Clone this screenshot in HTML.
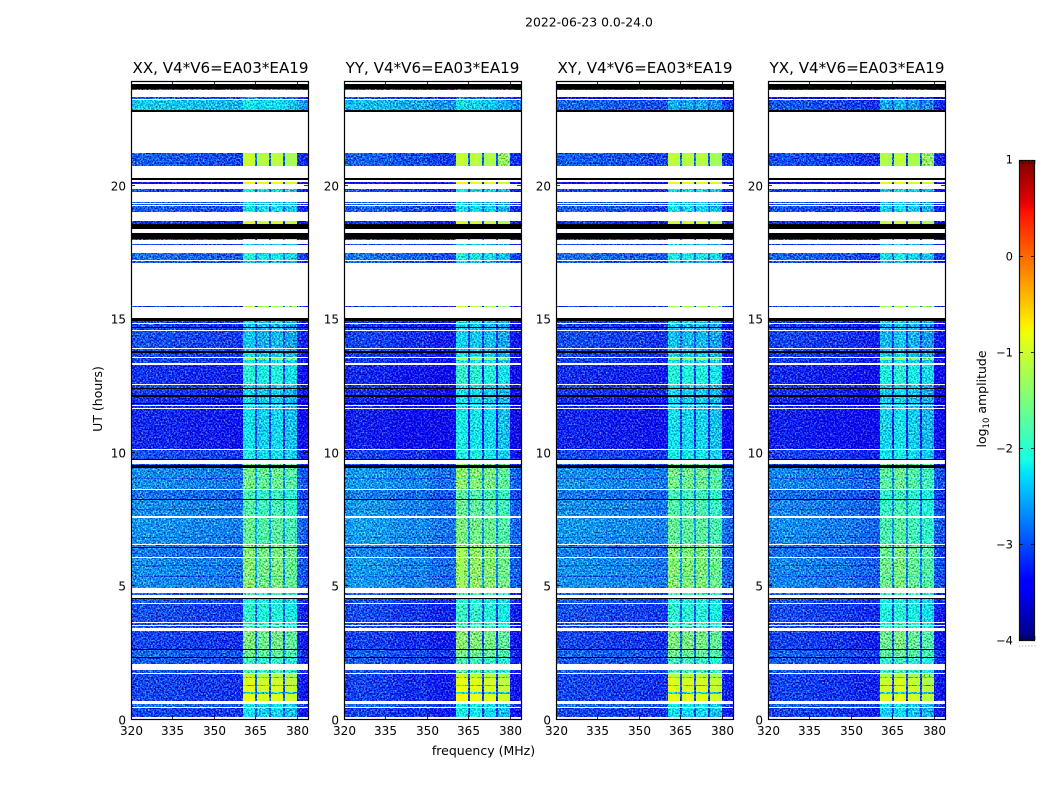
<!DOCTYPE html>
<html lang="en">
<head>
<meta charset="utf-8">
<title>2022-06-23 0.0-24.0 dynamic spectra</title>
<style>
html,body{margin:0;padding:0;background:#fff;}
svg{display:block;}
text{font-family:"DejaVu Sans","Liberation Sans",sans-serif;fill:#000;}
</style>
</head>
<body>
<svg id="chart" xmlns="http://www.w3.org/2000/svg" width="1050" height="800" viewBox="0 0 1050 800">
  <defs>
    <filter id="speckle" filterUnits="userSpaceOnUse" x="100" y="60" width="880" height="680" color-interpolation-filters="sRGB">
      <feTurbulence type="fractalNoise" baseFrequency="0.62" numOctaves="2" seed="7" result="n"/>
      <feColorMatrix in="n" type="matrix" values="1 0 0 0 0  1 0 0 0 0  1 0 0 0 0  0 0 0 0 1" result="g"/>
      <feComposite in="SourceGraphic" in2="g" operator="arithmetic" k1="0" k2="1" k3="1.6" k4="-0.8" result="m"/>
      <feComposite in="m" in2="SourceAlpha" operator="in"/>
    </filter>
  </defs>
  <rect x="0" y="0" width="1050" height="800" fill="#fff"/>
  <text x="589" y="26.5" font-size="12.4" text-anchor="middle">2022-06-23 0.0-24.0</text>
  <text x="220.5" y="73" font-size="15.1" text-anchor="middle">XX, V4*V6=EA03*EA19</text>
  <text x="432.5" y="73" font-size="15.1" text-anchor="middle">YY, V4*V6=EA03*EA19</text>
  <text x="645" y="73" font-size="15.1" text-anchor="middle">XY, V4*V6=EA03*EA19</text>
  <text x="857" y="73" font-size="15.1" text-anchor="middle">YX, V4*V6=EA03*EA19</text>
  <text x="483.5" y="755" font-size="12.5" text-anchor="middle">frequency (MHz)</text>
  <text transform="translate(102,399) rotate(-90)" font-size="12.5" text-anchor="middle">UT (hours)</text>
  <text transform="translate(986,399) rotate(-90)" font-size="12.5" text-anchor="middle">log<tspan font-size="8.5" dy="3">10</tspan><tspan dy="-3"> amplitude</tspan></text>
  <g id="panels"></g>
  <g id="colorbar"></g>
</svg>
<script>
// ---------- axis ticks ----------
const freqTicks = [320, 335, 350, 365, 380];
const hourTicks = [0, 5, 10, 15, 20];
const colorTicks = [1, 0, -1, -2, -3, -4];
const colorTickLabels = ['1', '0', '\u22121', '\u22122', '\u22123', '\u22124'];
const panelKeys = ['xx', 'yy', 'xy', 'yx'];

// ---------- frequency bins (MHz) ----------
const freqEdges = [320,322,324,326,328,330,332,334,336,338,340,342,344,346,348,350,352,354,356,358,360,360.5,
  362,363.5,364.9,365.6,367,368.5,370,370.7,372,373.5,375,375.7,377,378.5,380,382,384];
const interferenceBins = [0,0,0,0,0,0,0,0,0,0,0,0,0,0,0,0,0,0,0,0,0,
  1,1,1,0,1,1,1,0,1,1,1,0,1,1,1,0,0];

// ---------- spectral shape per panel (dex, one per frequency bin) ----------
const shapeXX = [.05,.08,.08,.06,.05,.05,.06,.05,.03,.03,.02,0,0,.01,0,0,-.02,-.02,-.03,-.05,-.05,
  .1,.12,.08,.2,-.05,0,.02,.15,.03,.05,.03,.12,-.08,-.06,-.12,-.12,-.2];
const shapeYY = [.06,.1,.12,.12,.1,.08,.08,.1,.05,.02,.02,0,-.02,.02,.02,-.05,-.08,-.1,-.1,-.1,-.1,
  .12,.14,.1,.1,.04,.1,.06,.08,-.02,.02,0,.05,-.14,-.12,-.16,-.12,-.18];
const shapeXY = [.06,.06,.08,.06,.06,.05,.05,.04,.03,.03,0,0,.02,0,0,0,-.03,-.03,-.05,-.05,-.05,
  .08,.1,.06,.15,0,.06,.04,.12,.03,.05,.02,.08,-.08,-.06,-.12,-.12,-.18];
const shapeYX = [.06,.08,.1,.1,.08,.08,.06,.06,.05,.04,.02,.02,.02,.02,0,-.03,-.05,-.06,-.08,-.1,-.1,
  .03,.06,.02,.1,.08,.16,.12,.1,0,.02,-.03,.05,-.1,-.1,-.16,-.12,-.18];

// ---------- observing eras and panel level offsets (dex) ----------
const eraEdges = [0, 4.92, 9.5, 15.5, 22.8, 24];
const bgOffsetXX = [0, 0, 0, 0, 0];
const bgOffsetYY = [-.06, .02, -.1, 0, -.1];
const bgOffsetXY = [0, .02, -.02, 0, -.5];
const bgOffsetYX = [-.04, -.06, -.08, -.08, -.6];
const rfiOffsetXX = [0, 0, -.1, 0, 0];
const rfiOffsetYY = [.05, .12, -.05, -.05, -.1];
const rfiOffsetXY = [.02, .02, -.1, -.03, -.3];
const rfiOffsetYX = [-.05, -.1, -.12, -.08, -.3];

// ---------- time rows (UT hours); null = missing (white), -9 = below range (black) ----------
const rowEdges = [
  0,.07,.41,.45,.55,.69,.95,1,1.23,1.29,1.53,1.58,1.69,
  1.73,1.84,2.05,2.28,2.32,2.6,2.63,3.31,3.4,3.48,3.53,3.58,3.63,4.32,4.36,4.48,4.52,4.66,4.71,
  4.92,5.32,5.35,5.73,5.76,6.03,6.07,6.4,6.43,6.5,6.54,6.78,6.81,7.54,7.6,7.83,7.86,8.21,8.24,8.59,8.63,8.99,9.02,9.4,
  9.51,9.54,9.7,9.73,10.07,10.11,11.62,11.66,11.71,11.76,11.8,11.84,12.06,12.13,12.35,12.39,12.49,12.55,13.27,13.32,13.45,13.51,13.54,13.72,13.77,13.86,13.9,14.53,14.57,14.66,14.69,14.78,14.83,14.91,15,
  15.43,15.47,17.09,17.16,17.19,17.46,17.75,17.8,17.94,17.98,18.2,18.36,18.54,18.63,19,19.21,19.24,19.29,19.33,19.36,19.74,19.79,19.8,19.83,20.04,20.12,20.17,20.26,20.72,21.2,22.73,22.82,23.18,23.2,23.3,23.54,23.6,23.78,23.89];
const backgroundLevels = [
  null,-3.1,null,-2.9,null,-3.1,-3.1,-3.1,-3.1,-3.1,-3.1,-3.1,
  null,-3,null,-3,-9,-2.95,-9,-3.1,null,-3.05,null,-3.05,null,-3.05,null,-3,-9,null,-3,null,
  -2.75,-3,-2.75,-3,-2.75,null,-2.85,-9,-2.8,null,-2.72,-2.95,-2.72,null,-2.75,-3,-2.75,-9,-2.88,null,-2.75,-3,-2.75,-9,
  -3,null,-9,-3.05,null,-3.25,null,-3.2,null,-3.2,-9,-3.2,-9,-3.15,-9,-3.1,null,-3.2,null,-3.1,-3.1,null,-3.1,-9,-3,null,-3.05,null,-3.05,-9,-3.1,null,-3.1,-9,null,
  -3.1,null,-3,null,-2.9,null,-3.1,null,-3,-9,null,-9,-3.2,null,-3,null,-3,null,-3,null,-3.1,null,-3.1,null,-3.4,null,-9,null,-3,null,-9,-2.45,null,-3,null,-3,-9,null];
const interferenceLevels = [
  null,-2.35,null,-2.3,null,-.95,-2.4,-.98,-2.4,-1.02,-2.2,-1.2,
  null,-1.9,null,-2,-9,-1.7,-9,-1.6,null,-2,null,-2,null,-2.1,null,-2.2,-9,null,-1.9,null,
  -1.55,-1.75,-1.55,-1.75,-1.55,null,-1.55,-9,-1.6,null,-1.75,-1.95,-1.75,null,-1.85,-2.05,-1.85,-9,-1.95,null,-1.65,-1.85,-1.65,-9,
  -1.5,null,-9,-2.15,null,-2.25,null,-2.3,null,-2.3,-9,-2.3,-9,-2.3,-9,-2.3,null,-2.05,null,-2.2,-1.2,null,-2.3,-9,-2.4,null,-2.4,null,-2.4,-9,-2.4,null,-2.3,-9,null,
  -1.15,null,-2.5,null,-2.2,null,-2.4,null,-1,-9,null,-9,-1,null,-2.3,null,-2.4,null,-2.4,null,-2.3,null,-2.3,null,-.85,null,-9,null,-1.15,null,-9,-2.3,null,-2.8,null,-2.8,-9,null];

// ---------- colour scale ----------
const colorMin = -4;
const colorMax = 1;
const jetRed = [[0,0],[.35,0],[.66,1],[.89,1],[1,.5]];
const jetGreen = [[0,0],[.125,0],[.375,1],[.64,1],[.91,0],[1,0]];
const jetBlue = [[0,.5],[.11,1],[.34,1],[.65,0],[1,0]];

const shapes = {xx: shapeXX, yy: shapeYY, xy: shapeXY, yx: shapeYX};
const bgOffsets = {xx: bgOffsetXX, yy: bgOffsetYY, xy: bgOffsetXY, yx: bgOffsetYX};
const rfiOffsets = {xx: rfiOffsetXX, yy: rfiOffsetYY, xy: rfiOffsetXY, yx: rfiOffsetYX};

// ---------- layout and axis functions ----------
const NS = 'http://www.w3.org/2000/svg';
const panelLeft = {xx: 131, yy: 344, xy: 556, yx: 768};
const panelWidth = 177;
const plotBottom = 719;
const plotTop = 81;
const freqMin = 320, freqMax = 384;
const hourMin = 0, hourMax = 23.89;
const barLeft = 1019, barRight = 1035, barTop = 160, barBottom = 640;
const smoothAbove = -1.3;

function xScale(key, f) { return panelLeft[key] + (f - freqMin) / (freqMax - freqMin) * panelWidth; }
function yScale(h) { return plotBottom - (h - hourMin) / (hourMax - hourMin) * (plotBottom - plotTop); }
function barScale(v) { return barBottom - (v - colorMin) / (colorMax - colorMin) * (barBottom - barTop); }
function ramp(stops, t) {
  for (let i = 1; i < stops.length; i++) {
    if (t <= stops[i][0]) {
      const a = stops[i - 1], b = stops[i];
      return a[1] + (b[1] - a[1]) * (t - a[0]) / (b[0] - a[0]);
    }
  }
  return stops[stops.length - 1][1];
}
function jet(v) {
  if (v < colorMin) return '#000';
  const t = Math.min(1, (v - colorMin) / (colorMax - colorMin));
  return 'rgb(' + Math.round(255 * ramp(jetRed, t)) + ',' + Math.round(255 * ramp(jetGreen, t)) + ',' + Math.round(255 * ramp(jetBlue, t)) + ')';
}
function eraOf(h) {
  for (let i = 0; i < eraEdges.length - 1; i++) if (h < eraEdges[i + 1]) return i;
  return eraEdges.length - 2;
}
function make(tag, parent, attrs) {
  const el = document.createElementNS(NS, tag);
  for (const k in attrs) el.setAttribute(k, attrs[k]);
  parent.appendChild(el);
  return el;
}

// ---------- panels ----------
const panelsRoot = document.getElementById('panels');
panelKeys.forEach(function (key) {
  const panel = make('g', panelsRoot, {});
  
  
  const smoothGroup = make('g', panel, {'shape-rendering': 'crispEdges'});
  
  
  const cellsGroup = make('g', panel, {filter: 'url(#speckle)', 'shape-rendering': 'crispEdges'});
  
  
  const flagGroup = make('g', panel, {'shape-rendering': 'crispEdges'});
  
  

  for (let r = 0; r < backgroundLevels.length; r++) {
    if (backgroundLevels[r] === null) continue;
    const yTop = Math.round(yScale(rowEdges[r + 1]));
    const yBottom = Math.round(yScale(rowEdges[r]));
    const era = eraOf((rowEdges[r] + rowEdges[r + 1]) / 2);
    for (let b = 0; b < freqEdges.length - 1; b++) {
      const isRfi = interferenceBins[b] === 1;
      const base = isRfi ? interferenceLevels[r] : backgroundLevels[r];
      const below = base <= colorMin;
      const offset = isRfi ? rfiOffsets[key][era] : bgOffsets[key][era];
      const value = below ? base : base + offset + shapes[key][b];
      const xLeft = Math.round(xScale(key, freqEdges[b]));
      const xRight = Math.round(xScale(key, freqEdges[b + 1]));
      const target = below ? flagGroup : (value > smoothAbove ? smoothGroup : cellsGroup);
      const cell = make('rect', target, {
        x: xLeft,
        y: yTop,
        width: Math.max(1, xRight - xLeft),
        height: Math.max(1, yBottom - yTop),
        fill: jet(value)
      });
      
      
    }
  }

  const x0 = panelLeft[key];
  const frame = make('rect', panel, {x: x0 + .5, y: plotTop + .5, width: panelWidth, height: plotBottom - plotTop, fill: 'none', stroke: '#000', 'stroke-width': 1.2});
  
  

  freqTicks.forEach(function (f, i) {
    const x = Math.round(xScale(key, f)) + .5;
    const tickB = make('line', panel, {x1: x, x2: x, y1: plotBottom, y2: plotBottom - 4, stroke: '#000', 'stroke-width': .8});
    
    
    const tickT = make('line', panel, {x1: x, x2: x, y1: plotTop, y2: plotTop + 4, stroke: '#000', 'stroke-width': .8});
    
    
    const label = make('text', panel, {x: x, y: 735, 'font-size': 12, 'text-anchor': 'middle'});
    label.textContent = String(freqTicks[i]);
    
    
  });
  hourTicks.forEach(function (h, i) {
    const y = Math.round(yScale(h)) + .5;
    const tickL = make('line', panel, {x1: x0, x2: x0 + 4, y1: y, y2: y, stroke: '#000', 'stroke-width': .8});
    
    
    const tickR = make('line', panel, {x1: x0 + panelWidth, x2: x0 + panelWidth - 4, y1: y, y2: y, stroke: '#000', 'stroke-width': .8});
    
    
    const label = make('text', panel, {x: x0 - 5, y: y + 5, 'font-size': 12, 'text-anchor': 'end'});
    label.textContent = String(hourTicks[i]);
    
    
  });
});

// ---------- colorbar ----------
const barRoot = document.getElementById('colorbar');
const stripes = make('g', barRoot, {'shape-rendering': 'crispEdges'});


for (let py = barTop; py < barBottom; py++) {
  const v = colorMin + (barBottom - py - .5) / (barBottom - barTop) * (colorMax - colorMin);
  const s = make('rect', stripes, {x: barLeft, y: py, width: barRight - barLeft, height: 1, fill: jet(v)});
  
  
}
const barFrame = make('rect', barRoot, {x: barLeft + .5, y: barTop + .5, width: barRight - barLeft - 1, height: barBottom - barTop, fill: 'none', stroke: '#111', 'stroke-width': 1.2});


colorTicks.forEach(function (v, i) {
  const y = Math.round(barScale(v)) + .5;
  const t1 = make('line', barRoot, {x1: barLeft, x2: barLeft + 4, y1: y, y2: y, stroke: '#000', 'stroke-width': .8});
  
  
  const t2 = make('line', barRoot, {x1: barRight, x2: barRight - 4, y1: y, y2: y, stroke: '#000', 'stroke-width': .8});
  
  
  const label = make('text', barRoot, {x: 1013, y: y + (i === 0 ? 3 : 4), 'font-size': 11.5, 'text-anchor': 'end'});
  label.textContent = colorTickLabels[i];
  
  
});
for (let k = 0; k < 6; k++) {
  const x = barLeft + .5 + k * 3.1;
  const top = make('line', barRoot, {x1: x, x2: x, y1: barTop, y2: barTop + 4, stroke: '#000', 'stroke-width': .6});
  
  
  const bottom = make('line', barRoot, {x1: x, x2: x, y1: barBottom, y2: barBottom - 4, stroke: '#000', 'stroke-width': .6});
  
  
  const dot = make('rect', barRoot, {x: x - .5, y: 645.5, width: 1, height: 1, fill: '#999'});
  
  
}
</script>
</body>
</html>
